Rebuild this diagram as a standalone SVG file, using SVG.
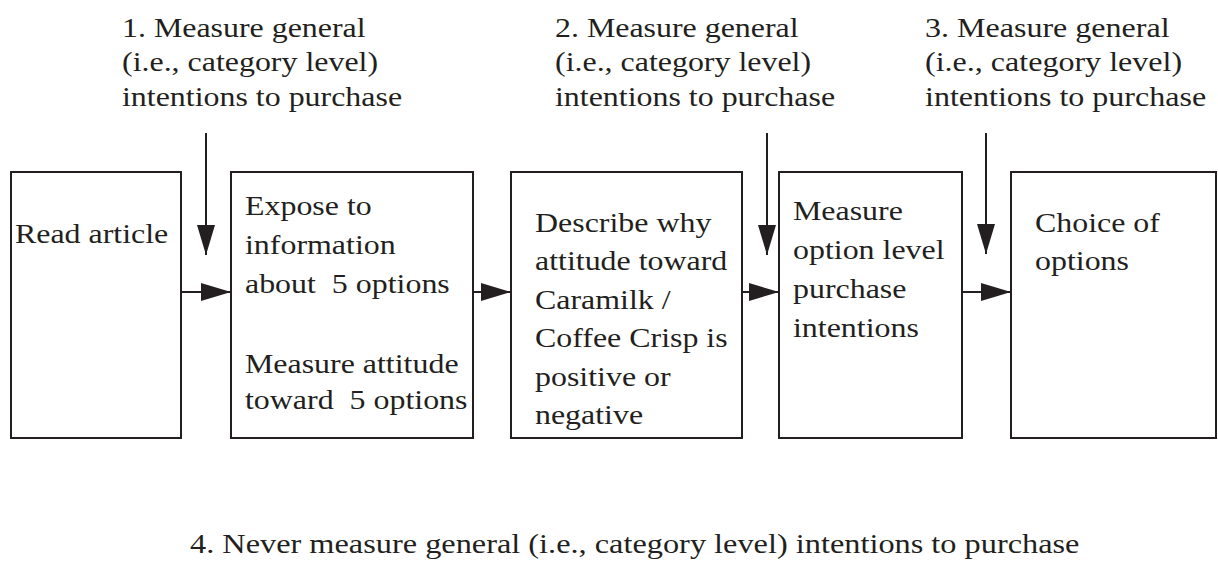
<svg xmlns="http://www.w3.org/2000/svg" width="1218" height="561" viewBox="0 0 1218 561">
<style>
.box{fill:#fff;stroke:#231f20;stroke-width:2}
.t{font-family:"Liberation Serif","Times New Roman",serif;font-size:28px;fill:#231f20;white-space:pre}
.c{stroke:#231f20;stroke-width:2;fill:none}
</style>
<defs>
<marker id="ah" markerUnits="userSpaceOnUse" markerWidth="30" markerHeight="18" refX="30" refY="9" orient="auto" viewBox="0 0 30 18">
<path d="M0,0 L30,9 L0,18 Z" fill="#231f20"/>
</marker>
</defs>
<rect width="1218" height="561" fill="#fff"/>
<g id="label1" transform="translate(122,0) scale(1.14,1)"><text class="t"><tspan x="0" y="37">1. Measure general</tspan><tspan x="0" y="71.5">(i.e., category level)</tspan><tspan x="0" y="106">intentions to purchase</tspan></text></g>
<g id="label2" transform="translate(555,0) scale(1.14,1)"><text class="t"><tspan x="0" y="37">2. Measure general</tspan><tspan x="0" y="71.5">(i.e., category level)</tspan><tspan x="0" y="106">intentions to purchase</tspan></text></g>
<g id="label3" transform="translate(925,0) scale(1.145,1)"><text class="t"><tspan x="0" y="37">3. Measure general</tspan><tspan x="0" y="71.5">(i.e., category level)</tspan><tspan x="0" y="106">intentions to purchase</tspan></text></g>
<g id="node1"><rect class="box" x="11" y="172" width="170" height="266"/><g transform="translate(15,0) scale(1.14,1)"><text class="t" x="0" y="243">Read article</text></g></g>
<g id="node2"><rect class="box" x="231" y="172" width="242" height="266"/><g transform="translate(245,0) scale(1.14,1)"><text class="t" xml:space="preserve"><tspan x="0" y="215">Expose to</tspan><tspan x="0" y="254">information</tspan><tspan x="0" y="293">about  5 options</tspan><tspan x="0" y="373">Measure attitude</tspan><tspan x="0" y="409">toward  5 options</tspan></text></g></g>
<g id="node3"><rect class="box" x="511" y="172" width="231" height="266"/><g transform="translate(535,0) scale(1.14,1)"><text class="t"><tspan x="0" y="232">Describe why</tspan><tspan x="0" y="270.5">attitude toward</tspan><tspan x="0" y="309">Caramilk /</tspan><tspan x="0" y="347.5">Coffee Crisp is</tspan><tspan x="0" y="386">positive or</tspan><tspan x="0" y="424.5">negative</tspan></text></g></g>
<g id="node4"><rect class="box" x="779" y="172" width="183" height="266"/><g transform="translate(793,0) scale(1.14,1)"><text class="t"><tspan x="0" y="220">Measure</tspan><tspan x="0" y="259">option level</tspan><tspan x="0" y="298">purchase</tspan><tspan x="0" y="337">intentions</tspan></text></g></g>
<g id="node5"><rect class="box" x="1011" y="172" width="205" height="266"/><g transform="translate(1035,0) scale(1.14,1)"><text class="t"><tspan x="0" y="232">Choice of</tspan><tspan x="0" y="270">options</tspan></text></g></g>
<g id="label4" transform="translate(190,0) scale(1.155,1)"><text class="t" x="0" y="553">4. Never measure general (i.e., category level) intentions to purchase</text></g>
<g id="connectors">
<line class="c" x1="181" y1="292" x2="231" y2="292" marker-end="url(#ah)"/>
<line class="c" x1="473" y1="292" x2="511" y2="292" marker-end="url(#ah)"/>
<line class="c" x1="742" y1="292" x2="779" y2="292" marker-end="url(#ah)"/>
<line class="c" x1="962" y1="292" x2="1011" y2="292" marker-end="url(#ah)"/>
<line class="c" x1="206" y1="133" x2="206" y2="255" marker-end="url(#ah)"/>
<line class="c" x1="767" y1="133" x2="767" y2="255" marker-end="url(#ah)"/>
<line class="c" x1="986" y1="133" x2="986" y2="254" marker-end="url(#ah)"/>
</g>
</svg>
